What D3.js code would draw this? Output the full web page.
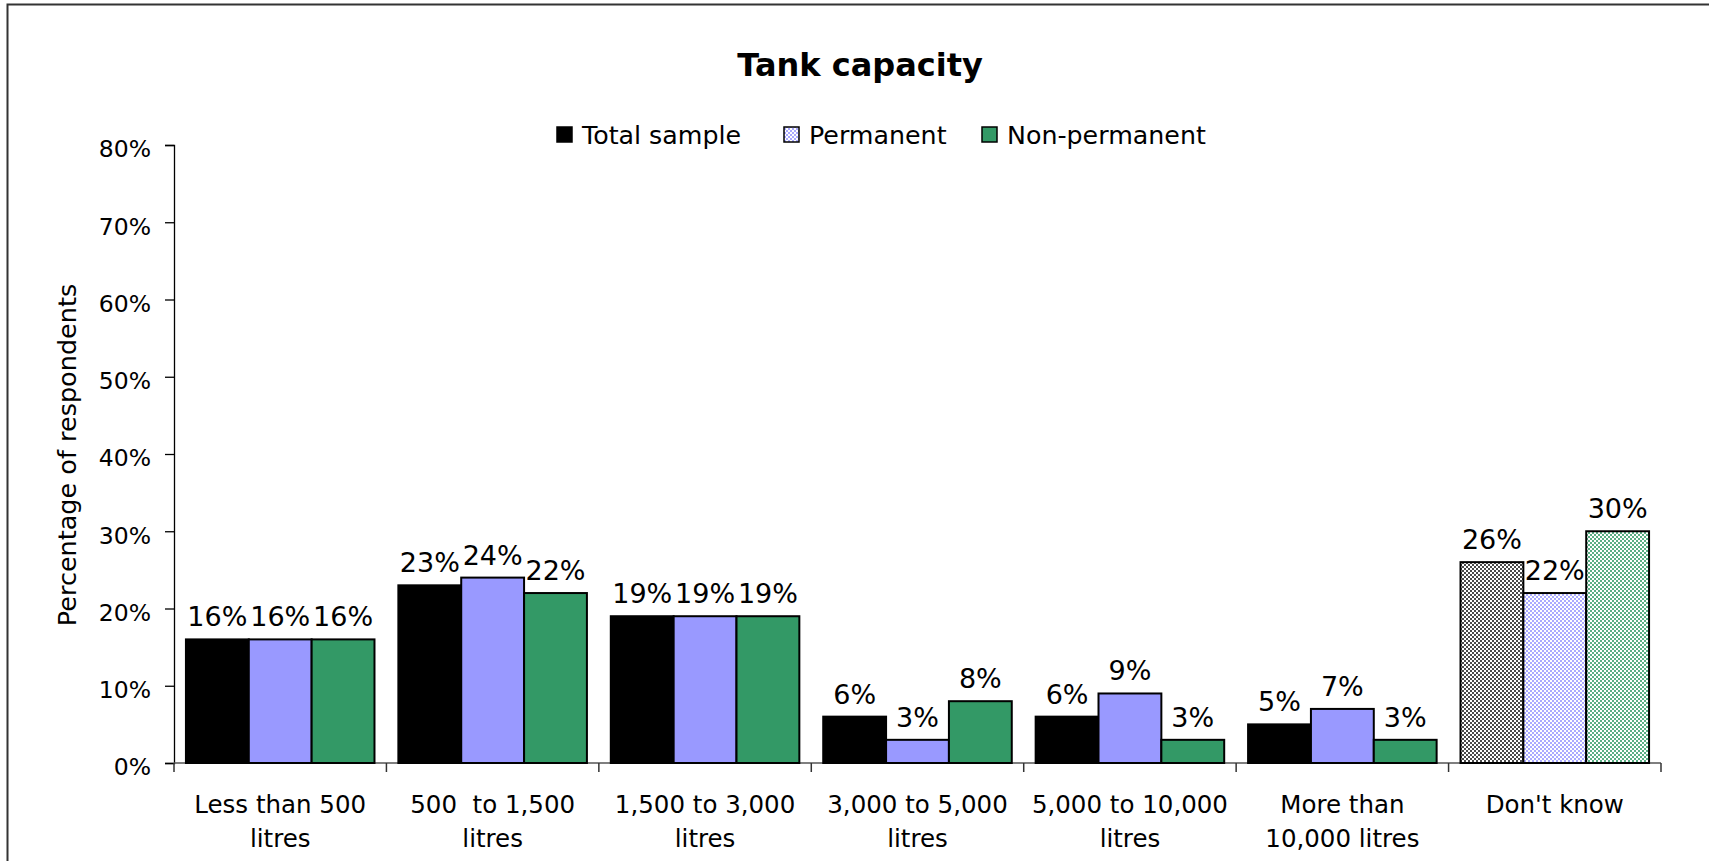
<!DOCTYPE html>
<html>
<head>
<meta charset="utf-8">
<script src="https://cdn.jsdelivr.net/npm/d3@7/dist/d3.min.js"></script>
<style>
  html, body { margin: 0; padding: 0; background: #fff; }
  svg { display: block; }
  text { font-family: "DejaVu Sans", Verdana, sans-serif; fill: #000; }
</style>
</head>
<body>
<svg id="chart" width="1709" height="861"></svg>
<script>
// ---- data ----
const categories = [
  "Less than 500|litres",
  "500  to 1,500|litres",
  "1,500 to 3,000|litres",
  "3,000 to 5,000|litres",
  "5,000 to 10,000|litres",
  "More than|10,000 litres",
  "Don't know"
];
const seriesNames = ["Total sample", "Permanent", "Non-permanent"];
const totalSample = [0.16, 0.23, 0.19, 0.06, 0.06, 0.05, 0.26];
const permanent = [0.16, 0.24, 0.19, 0.03, 0.09, 0.07, 0.22];
const nonPermanent = [0.16, 0.22, 0.19, 0.08, 0.03, 0.03, 0.30];
const yTicks = [0, 0.1, 0.2, 0.3, 0.4, 0.5, 0.6, 0.7, 0.8];
const titleText = "Tank capacity";
const yAxisTitle = "Percentage of respondents";

const seriesValues = [totalSample, permanent, nonPermanent];
const solidColors = ["#000000", "#9999FF", "#339966"];
const dotColors = ["#4a4a4a", "#aaaaff", "#5aae84"];

const svg = d3.select("#chart");

// patterns for "Don't know"
const defs = svg.append("defs");
dotColors.forEach((c, i) => {
  const p = defs.append("pattern")
    .attr("id", "dots" + i)
    .attr("patternUnits", "userSpaceOnUse")
    .attr("width", 4).attr("height", 4);
  p.append("rect").attr("width", 4).attr("height", 4).attr("fill", "#ffffff");
  p.append("rect").attr("x", 0).attr("y", 0).attr("width", 2).attr("height", 2).attr("fill", c);
  p.append("rect").attr("x", 2).attr("y", 2).attr("width", 2).attr("height", 2).attr("fill", c);
});

// frame
svg.append("path")
  .attr("d", "M7.5,861 L7.5,4.5 L1709,4.5")
  .attr("fill", "none").attr("stroke", "#333").attr("stroke-width", 2);

// scales
const x0 = d3.scaleBand().domain(categories).range([174, 1661]).paddingInner(0).paddingOuter(0);
const x1 = d3.scaleBand().domain(seriesNames).range([0, x0.bandwidth()]).paddingInner(0).paddingOuter(0.19);
const y = d3.scaleLinear().domain([0, 0.8]).range([763, 145]);

// title
svg.append("text")
  .attr("x", 860).attr("y", 76)
  .attr("text-anchor", "middle")
  .attr("font-size", 32).attr("font-weight", "bold")
  .text(titleText);

// legend
const legendX = [557, 784, 982];
const leg = svg.append("g");
seriesNames.forEach((s, i) => {
  const g = leg.append("g");
  g.append("rect")
    .attr("x", legendX[i]).attr("y", 127)
    .attr("width", 15).attr("height", 15)
    .attr("fill", i === 1 ? "url(#dots1)" : solidColors[i])
    .attr("stroke", "#000").attr("stroke-width", 1.5);
  g.append("text")
    .attr("x", legendX[i] + 25).attr("y", 144)
    .attr("font-size", 25.3)
    .text(s);
});

// y axis
const yAxis = d3.axisLeft(y).tickValues(yTicks).tickFormat(d3.format(".0%")).tickSize(9).tickPadding(14);
const gy = svg.append("g").attr("transform", "translate(174,0)").call(yAxis);
gy.select(".domain").attr("stroke", "#000").attr("stroke-width", 1.3);
gy.selectAll(".tick line").attr("stroke", "#000").attr("stroke-width", 1.3);
gy.selectAll(".tick text").attr("font-size", 23.5).attr("font-family", "DejaVu Sans").attr("dy", "0.5em");

// y axis title
svg.append("text")
  .attr("transform", "translate(76,455) rotate(-90)")
  .attr("text-anchor", "middle")
  .attr("font-size", 25.5)
  .text(yAxisTitle);

// x axis line and ticks
const gx = svg.append("g");
gx.append("line")
  .attr("x1", x0.range()[0]).attr("x2", x0.range()[1])
  .attr("y1", y(0)).attr("y2", y(0))
  .attr("stroke", "#555").attr("stroke-width", 1.5);
const boundaries = categories.map(c => x0(c)).concat([x0.range()[1]]);
gx.selectAll("line.ctick").data(boundaries).enter().append("line")
  .attr("class", "ctick")
  .attr("x1", d => d).attr("x2", d => d)
  .attr("y1", y(0)).attr("y2", y(0) + 9)
  .attr("stroke", "#333").attr("stroke-width", 1.5);

// category labels
categories.forEach(c => {
  const lines = c.split("|");
  const t = gx.append("text")
    .attr("text-anchor", "middle")
    .attr("font-size", 24.5)
    .style("white-space", "pre");
  lines.forEach((ln, k) => {
    t.append("tspan")
      .attr("x", x0(c) + x0.bandwidth() / 2)
      .attr("y", 813 + k * 34)
      .text(ln);
  });
});

// bars
const last = categories.length - 1;
seriesNames.forEach((s, si) => {
  const g = svg.append("g");
  g.selectAll("rect").data(seriesValues[si]).enter().append("rect")
    .attr("x", (d, i) => x0(categories[i]) + x1(s))
    .attr("y", d => y(d))
    .attr("width", x1.bandwidth())
    .attr("height", d => y(0) - y(d))
    .attr("fill", (d, i) => i === last ? "url(#dots" + si + ")" : solidColors[si])
    .attr("stroke", "#000").attr("stroke-width", 2);
  g.selectAll("text").data(seriesValues[si]).enter().append("text")
    .attr("x", (d, i) => x0(categories[i]) + x1(s) + x1.bandwidth() / 2)
    .attr("y", d => y(d) - 13)
    .attr("text-anchor", "middle")
    .attr("font-size", 27)
    .text(d => d3.format(".0%")(d));
});
</script>
</body>
</html>
